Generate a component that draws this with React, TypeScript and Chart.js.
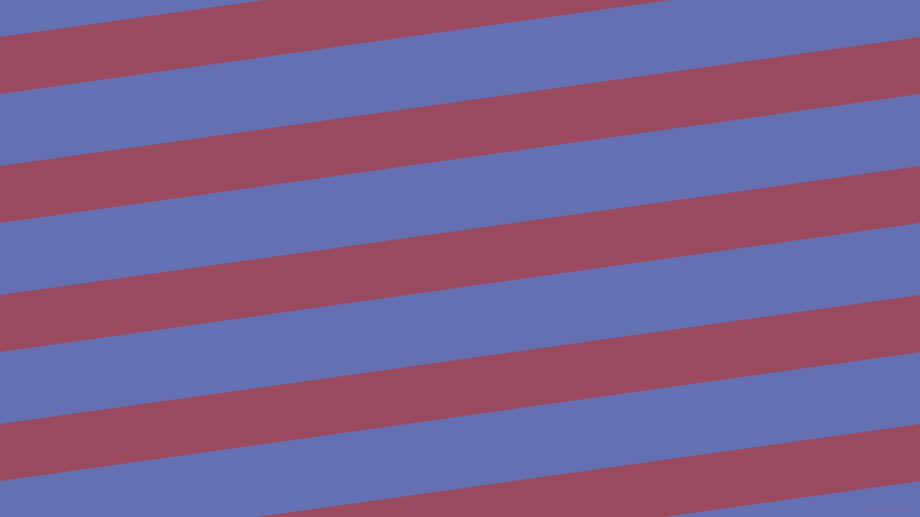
import React, { useRef, useEffect } from 'react';
import Chart from 'chart.js/auto';

// stripe edges (y in px from top) at the left (x=0) and right (x=920) side
const stripeEdgeX = [0, 920];
const stripeTopLeft = [-92, 37, 166, 295, 424, 553];
const stripeBottomLeft = [-35, 94, 223, 352, 481, 610];
const stripeTopRight = [-221, -92, 37, 166, 295, 424];
const stripeBottomRight = [-164, -35, 94, 223, 352, 481];

const BLUE = '#6570b3';
const RED = '#9a4a5e';

const App: React.FC = () => {
    const canvas = useRef<HTMLCanvasElement | null>(null);
    const chartRef = useRef<Chart | null>(null);

    useEffect(() => {
        document.body.style.margin = '0';
        const ctx = canvas.current;
        if (!ctx) return;
        if (chartRef.current) chartRef.current.destroy();

        const datasets: any[] = [];
        stripeTopLeft.forEach((top, i) => {
            // top edge, then bottom edge filled back to it
            datasets.push({
                data: [
                    { x: stripeEdgeX[0], y: top },
                    { x: stripeEdgeX[1], y: stripeTopRight[i] },
                ],
                borderWidth: 0,
                pointRadius: 0,
                fill: false,
            });
            datasets.push({
                data: [
                    { x: stripeEdgeX[0], y: stripeBottomLeft[i] },
                    { x: stripeEdgeX[1], y: stripeBottomRight[i] },
                ],
                borderWidth: 0,
                pointRadius: 0,
                backgroundColor: RED,
                fill: '-1',
            });
        });

        chartRef.current = new Chart(ctx, {
            type: 'line',
            data: { datasets },
            options: {
                animation: false,
                responsive: true,
                maintainAspectRatio: false,
                layout: { padding: 0 },
                plugins: {
                    legend: { display: false },
                    tooltip: { enabled: false },
                    title: { display: false },
                },
                scales: {
                    x: { type: 'linear', min: 0, max: 920, display: false },
                    y: { type: 'linear', min: 0, max: 517, reverse: true, display: false },
                },
            },
        });

        return () => {
            chartRef.current?.destroy();
            chartRef.current = null;
        };
    }, []);

    return (
        <div style={{ position: 'fixed', left: 0, top: 0, width: 920, height: 517, background: BLUE, overflow: 'hidden' }}>
            <canvas ref={canvas}></canvas>
            <div
                style={{
                    position: 'absolute',
                    right: 7,
                    bottom: 3,
                    fontFamily: '"DejaVu Sans", sans-serif',
                    fontSize: 10,
                    color: 'rgba(150, 90, 150, 0.45)',
                }}
            >
                pixlis.com
            </div>
        </div>
    );
};

export default App;
